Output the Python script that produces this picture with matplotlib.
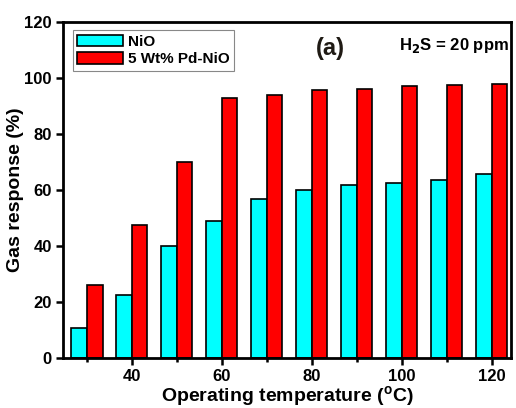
import matplotlib
matplotlib.use("Agg")
import matplotlib.pyplot as plt
import numpy as np

plt.rcParams["font.family"] = ["Liberation Sans", "DejaVu Sans"]
plt.rcParams["font.weight"] = "bold"
plt.rcParams["mathtext.default"] = "bf"

temperature = [30, 40, 50, 60, 70, 80, 90, 100, 110, 120]
nio = [10.7, 22.4, 40.0, 49.0, 56.7, 60.0, 61.6, 62.6, 63.4, 65.6]
pd_nio = [26.0, 47.4, 69.9, 93.0, 94.1, 95.7, 95.9, 97.3, 97.5, 97.9]

bar_w = 3.5

fig = plt.figure(figsize=(5.16, 4.08), dpi=100)
ax = fig.add_axes([0.122, 0.123, 0.868, 0.823])

x = np.array(temperature)
# NiO bar to the left of each temperature, Pd-NiO to the right
ax.bar(x - bar_w, nio, width=bar_w, align="edge", color="#00ffff",
       edgecolor="black", linewidth=1.2, label="NiO")
ax.bar(x, pd_nio, width=bar_w, align="edge", color="#ff0000",
       edgecolor="black", linewidth=1.2, label="5 Wt% Pd-NiO")

ax.set_xlim(24.7, 124.3)
ax.set_ylim(0, 120)
ax.set_xticks([40, 60, 80, 100, 120])
ax.set_xticks([30, 50, 70, 90, 110], minor=True)
ax.set_yticks([0, 20, 40, 60, 80, 100, 120])

ax.tick_params(axis="both", which="major", direction="out", width=1.8,
               length=5, labelsize=12, top=False, right=False, pad=3)
ax.tick_params(axis="x", which="minor", direction="out", width=1.8, length=3)
for s in ax.spines.values():
    s.set_linewidth(2)

ax.set_xlabel("Operating temperature ($^\\mathregular{o}$C)", fontsize=14,
              fontweight="bold", labelpad=0)
ax.set_ylabel("Gas response (%)", fontsize=14, fontweight="bold", labelpad=0)

leg = ax.legend(loc="upper left", bbox_to_anchor=(0.015, 0.985), fontsize=11,
                handlelength=3.0, handleheight=0.8, fancybox=False,
                borderpad=0.3, labelspacing=0.2, handletextpad=0.3,
                borderaxespad=0.2, framealpha=1)
leg.get_frame().set_edgecolor("#888888")
leg.get_frame().set_linewidth(0.8)

ax.text(0.596, 0.92, "(a)", transform=ax.transAxes, fontsize=17,
        fontweight="bold", ha="center", va="center", color="#1f1a14")
ax.text(0.995, 0.93, "H$_\\mathbf{2}$S = 20 ppm", transform=ax.transAxes,
        fontsize=12, fontweight="bold", ha="right", va="center")

fig.savefig("out.png", dpi=100)
